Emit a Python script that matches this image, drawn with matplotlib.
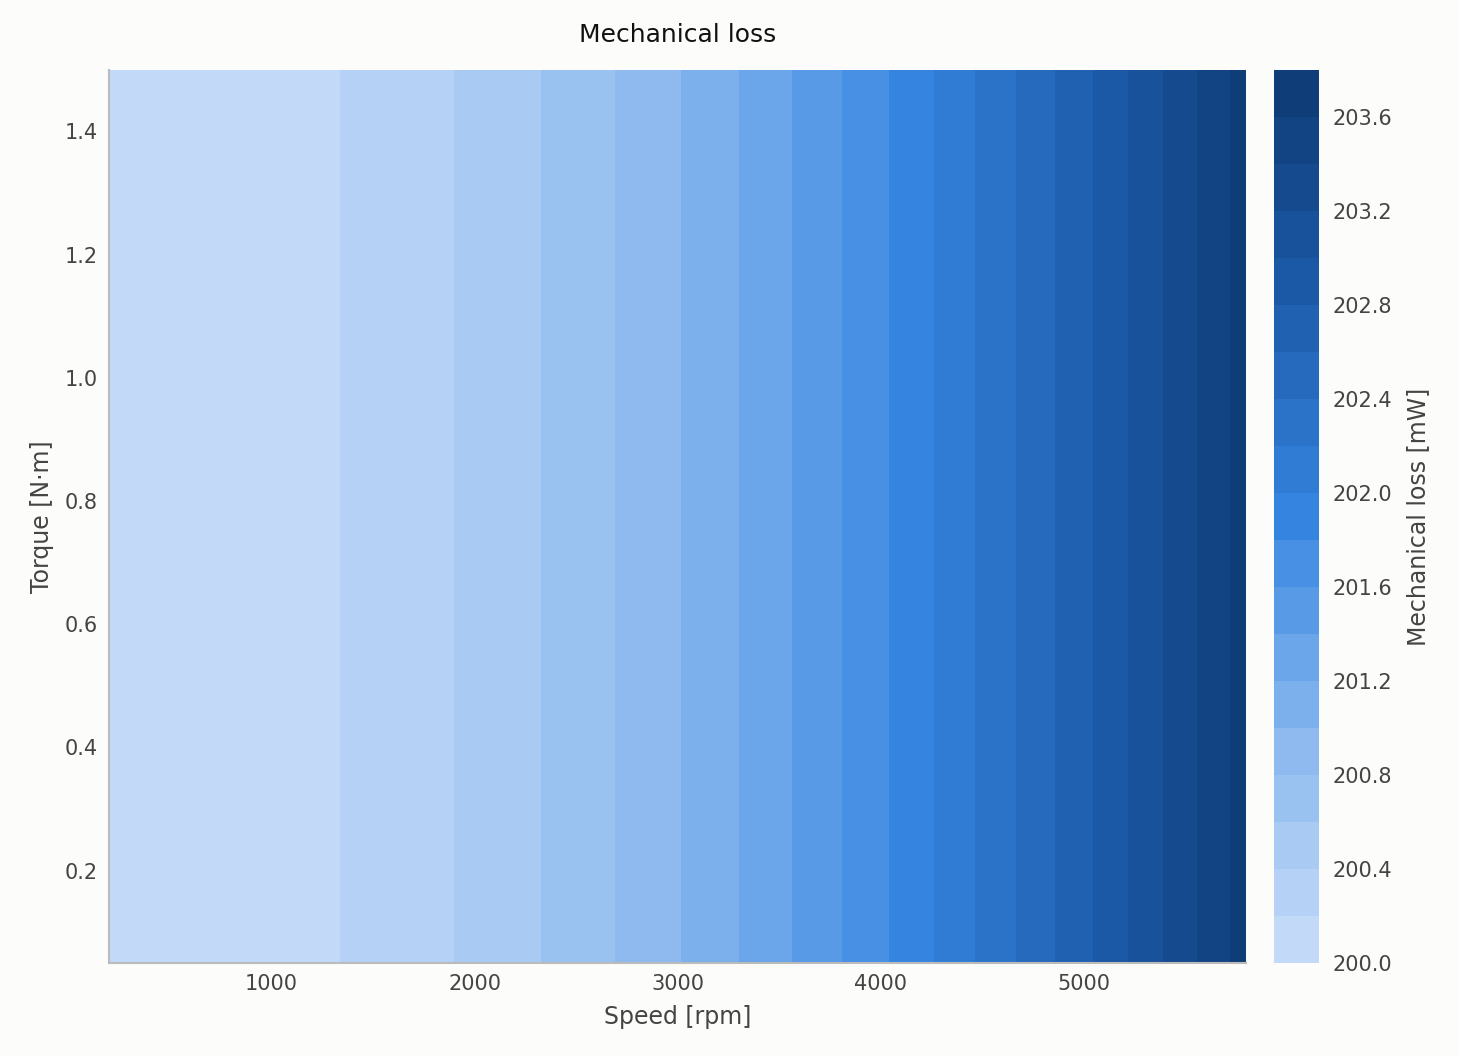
import numpy as np
import matplotlib
matplotlib.use("Agg")
import matplotlib.pyplot as plt
from matplotlib.colors import LinearSegmentedColormap

speed = [200, 600, 1000, 1400, 1800, 2200, 2600, 3000, 3400, 3800, 4200, 4600, 5000, 5400, 5800]
loss_by_speed = [200.004, 200.04, 200.11, 200.216, 200.356, 200.532, 200.744, 200.99,
                 201.27, 201.59, 201.94, 202.33, 202.75, 203.21, 203.70]
torque = [0.05, 0.5, 1.0, 1.5]

levels = np.round(np.arange(200.0, 203.81, 0.2), 2)
cmap = LinearSegmentedColormap.from_list("b", ["#c8ddf8", "#8ab8ef", "#3585e0", "#1c5aa8", "#0d3a73"])

S, T = np.meshgrid(speed, torque)
Z = np.tile(loss_by_speed, (len(torque), 1))

bg = "#fcfcfa"
fig = plt.figure(figsize=(14.59, 10.56), dpi=100, facecolor=bg)
ax = fig.add_axes([0.0747, 0.088, 0.7795, 0.846], facecolor=bg)
cax = fig.add_axes([0.873, 0.088, 0.031, 0.846])
cf = ax.contourf(S, T, Z, levels=levels, cmap=cmap)
ax.set_xlim(200, 5800)
ax.set_ylim(0.05, 1.5)
ax.set_xticks([1000, 2000, 3000, 4000, 5000])
ax.set_yticks([0.2, 0.4, 0.6, 0.8, 1.0, 1.2, 1.4])
tc = "#444444"
ax.tick_params(colors=tc, labelsize=15, length=0, pad=8)
for s in ["top", "right"]:
    ax.spines[s].set_visible(False)
for s in ["left", "bottom"]:
    ax.spines[s].set_color("#bbbbbb")
    ax.spines[s].set_linewidth(1.5)
ax.set_xlabel("Speed [rpm]", fontsize=17, color=tc, labelpad=8)
ax.set_ylabel("Torque [N·m]", fontsize=17, color=tc, labelpad=8)
ax.set_title("Mechanical loss", fontsize=18, color="#111111", pad=20)
cb = fig.colorbar(cf, cax=cax, ticks=np.round(np.arange(200.0, 203.7, 0.4), 1))
cb.ax.set_yticklabels([f"{v:.1f}" for v in np.arange(200.0, 203.7, 0.4)])
cb.outline.set_visible(False)
cb.ax.tick_params(colors=tc, labelsize=15, length=0, pad=10)
cb.set_label("Mechanical loss [mW]", fontsize=17, color=tc, labelpad=10)
fig.savefig("out.png", dpi=100, facecolor=bg)
